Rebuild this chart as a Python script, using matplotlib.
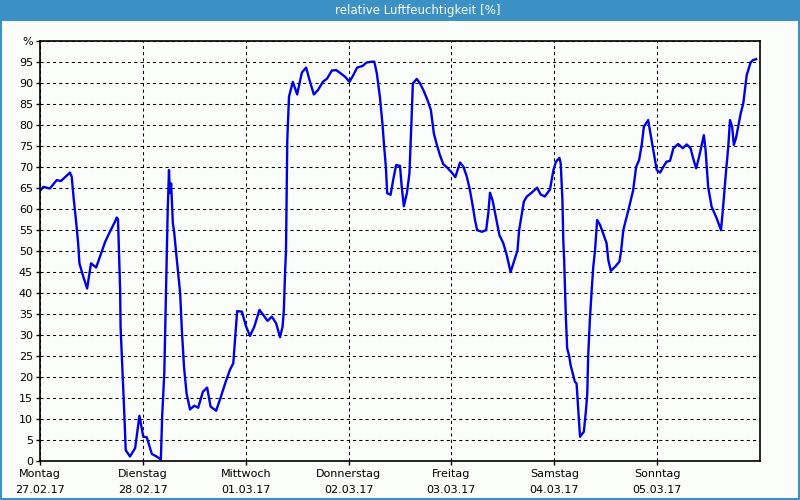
import matplotlib
matplotlib.use("Agg")
import matplotlib.pyplot as plt
from matplotlib.patches import Rectangle

# hours since Montag 00:00 and relative humidity [%]
hours = [
    0.2, 0.8, 1.6, 2.3, 3.9, 4.9, 7.0, 7.4, 7.9, 8.4, 8.9, 9.2, 10.1, 11.0,
    11.9, 13.1, 14.0, 15.2, 16.3, 17.5, 17.9, 18.2, 18.7, 18.8, 19.3, 19.7,
    20.0, 21.0, 22.2, 23.2, 24.1, 24.9, 26.1, 27.2, 28.2, 28.5, 29.0, 29.6,
    29.8, 30.1, 30.3, 30.6, 31.0, 31.3, 31.7, 32.7, 33.1, 33.6, 34.2, 35.0,
    36.0, 36.9, 38.0, 39.0, 39.8, 41.1, 42.2, 43.2, 44.3, 45.1, 46.0, 47.1,
    48.1, 49.0, 50.0, 51.2, 52.1, 53.1, 54.1, 55.1, 56.0, 56.6, 56.9, 57.2,
    57.4, 57.7, 58.1, 59.0, 60.0, 61.1, 62.1, 63.0, 63.9, 64.9, 66.0, 67.0,
    68.1, 69.1, 70.2, 71.2, 72.2, 73.1, 74.0, 75.3, 76.2, 77.4, 78.0, 78.6,
    79.3, 79.9, 80.3, 80.7, 81.0, 81.8, 82.4, 83.1, 84.0, 84.4, 84.9, 85.6,
    86.2, 86.6, 87.0, 87.9, 88.7, 89.6, 90.4, 91.2, 91.9, 92.6, 93.3, 94.1,
    95.0, 96.1, 96.9, 98.0, 98.8, 99.6, 100.3, 101.0, 101.5, 102.0, 103.1,
    104.1, 104.6, 105.0, 105.6, 106.2, 107.2, 108.1, 108.9, 109.8, 110.7,
    111.4, 111.8, 112.9, 113.6, 114.7, 116.0, 116.8, 117.8, 119.0, 119.8,
    120.4, 121.2, 121.5, 121.9, 122.1, 122.3, 122.7, 123.0, 123.5, 123.8,
    124.3, 124.8, 125.2, 125.6, 126.0, 126.9, 127.4, 127.7, 127.9, 128.3,
    128.7, 129.1, 129.5, 130.0, 130.7, 131.4, 132.2, 132.6, 133.2, 134.2,
    135.2, 135.6, 136.1, 137.3, 138.4, 139.1, 139.8, 140.4, 140.9, 141.9,
    142.3, 143.1, 143.9, 144.7, 145.4, 146.2, 147.0, 147.8, 148.9, 150.0,
    150.9, 151.8, 152.4, 153.1, 153.8, 154.4, 154.9, 155.3, 155.9, 156.7,
    157.9, 158.9, 159.4, 160.1, 160.6, 161.0, 161.5, 161.9, 162.4, 162.9,
    163.5, 164.1, 164.9, 165.8, 166.4, 167.1,
]
humidity = [
    64.5, 65.2, 65.0, 64.8, 66.8, 66.6, 68.6, 67.6, 62.0, 57.2, 51.8, 47.0, 43.8, 41.0,
    47.0, 46.0, 48.6, 52.1, 54.5, 56.9, 57.9, 57.5, 40.6, 31.9, 20.0, 10.5,
    2.5, 1.0, 3.0, 10.7, 5.7, 5.6, 1.6, 1.0, 0.3, 10.5, 20.8, 50.0,
    59.7, 69.2, 63.7, 66.0, 56.5, 54.5, 50.2, 39.9, 31.1, 22.4, 16.0, 12.2,
    13.1, 12.6, 16.4, 17.4, 12.9, 11.9, 15.2, 18.4, 21.6, 23.2, 35.6, 35.5,
    31.9, 29.7, 31.9, 35.9, 34.7, 33.3, 34.3, 32.7, 29.4, 31.9, 35.9, 45.4,
    50.0, 76.4, 86.7, 90.2, 87.2, 92.4, 93.6, 90.2, 87.2, 88.3, 90.2, 91.0,
    92.9, 93.0, 92.2, 91.4, 90.2, 91.8, 93.6, 94.0, 94.8, 95.0, 95.0, 92.2,
    86.7, 80.3, 74.8, 70.0, 63.7, 63.3, 66.8, 70.4, 70.2, 65.2, 60.6, 63.7,
    68.4, 78.7, 89.8, 90.9, 89.8, 87.9, 85.9, 83.5, 77.9, 75.2, 72.8, 70.6,
    69.8, 68.6, 67.5, 71.0, 70.0, 67.6, 64.5, 60.5, 57.3, 54.9, 54.5,
    54.9, 58.9, 63.8, 62.0, 58.9, 53.7, 51.8, 49.0, 44.9, 47.8,
    50.0, 54.9, 61.7, 62.9, 63.8, 65.0, 63.4, 62.9, 64.6, 69.2,
    71.2, 72.1, 70.8, 62.0, 52.5, 47.8, 34.3, 26.8, 24.8, 22.8,
    20.8, 18.8, 18.4, 12.1, 5.7, 6.9, 12.1, 16.0, 24.8, 33.5,
    40.2, 46.2, 50.0, 57.3, 56.1, 54.1, 51.8, 47.8, 45.2, 46.2,
    47.4, 50.0, 54.9, 59.7, 64.4, 70.0, 71.6, 75.2, 79.5, 81.1,
    78.7, 74.0, 69.2, 68.6, 69.9, 71.2, 71.4, 74.4, 75.4, 74.4,
    75.3, 74.4, 72.0, 69.6, 72.4, 75.2, 77.5, 74.0, 65.2, 60.5,
    57.7, 54.9, 60.5, 69.2, 74.8, 81.1, 79.5, 75.2, 76.8, 79.5,
    82.7, 85.1, 91.8, 94.8, 95.4, 95.6,
]

day_names = ["Montag", "Dienstag", "Mittwoch", "Donnerstag", "Freitag", "Samstag", "Sonntag"]
day_dates = ["27.02.17", "28.02.17", "01.03.17", "02.03.17", "03.03.17", "04.03.17", "05.03.17"]

bg = "#fbfdfb"
bar_blue = "#3c91c4"

fig = plt.figure(figsize=(8, 5), dpi=100, facecolor=bg)
ax = fig.add_axes([0.05, 0.0786, 0.90, 0.84])
ax.set_facecolor(bg)

ax.plot(hours, humidity, color="#0000e6", linewidth=1.7)

ax.set_xlim(0, 168)
ax.set_ylim(0, 100)

ax.set_xticks([24 * i for i in range(7)])
ax.set_xticklabels([n + "\n" + d for n, d in zip(day_names, day_dates)],
                   fontsize=8, linespacing=1.75)
yt = list(range(0, 100, 5)) + [100]
ax.set_yticks(yt)
ax.set_yticklabels([str(v) for v in yt[:-1]] + ["%"], fontsize=8)
ax.tick_params(length=3, width=1, pad=2, colors="black")
ax.tick_params(axis="x", pad=3)

ax.grid(True, color="black", linestyle=(0, (3, 3)), linewidth=0.75)
for s in ax.spines.values():
    s.set_color("black")
    s.set_linewidth(1.2)

# title bar and window border
fig.patches.append(Rectangle((0, 1 - 21 / 500), 1, 21 / 500, transform=fig.transFigure,
                             facecolor=bar_blue, edgecolor="none"))
fig.patches.append(Rectangle((0.001, 0.002), 0.998, 1, transform=fig.transFigure,
                             facecolor="none", edgecolor=bar_blue, linewidth=1.5))
fig.text(418 / 800, 1 - 10.5 / 500, "relative Luftfeuchtigkeit [%]", color="white",
         fontsize=8.5, ha="center", va="center")

fig.savefig("out.png", dpi=100, facecolor=bg)
